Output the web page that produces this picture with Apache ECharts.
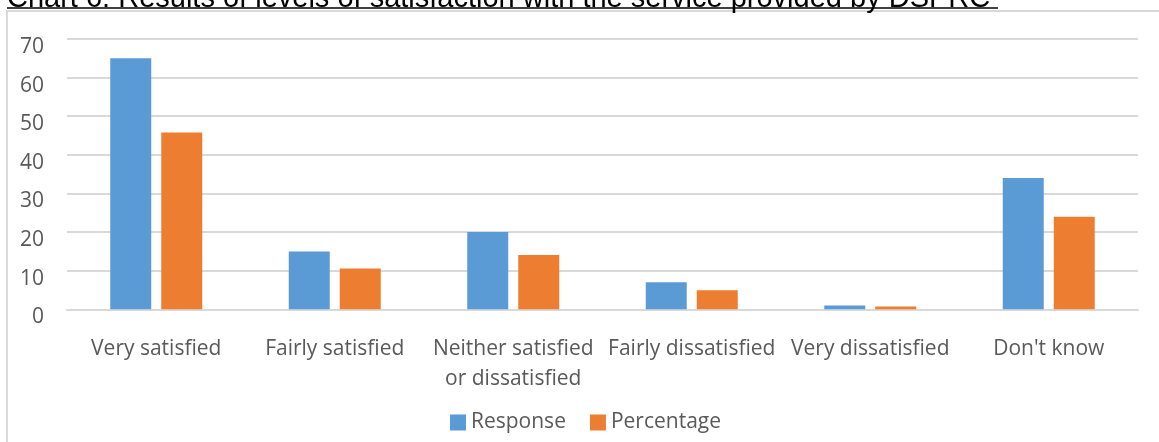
<!DOCTYPE html>
<html>
<head>
<meta charset="utf-8">
<script src="https://cdn.jsdelivr.net/npm/echarts@6/dist/echarts.min.js"></script>
<style>
html,body{margin:0;padding:0;background:#fff;}
#c{width:1159px;height:442px;}
</style>
</head>
<body>
<div id="c"></div>
<script>
const titleText = "Chart 6: Results of levels of satisfaction with the service provided by DSPRC";
const categories = ["Very satisfied", "Fairly satisfied", "Neither satisfied\nor dissatisfied", "Fairly dissatisfied", "Very dissatisfied", "Don't know"];
const responseValues = [65, 15, 20, 7, 1, 34];
const percentageValues = [45.77, 10.56, 14.08, 4.93, 0.70, 23.94];
const yTicks = { min: 0, max: 70, interval: 10 };

const labelFont = { fontFamily: "Open Sans", fontSize: 21, color: "#595959" };

const chart = echarts.init(document.getElementById('c'));
chart.setOption({
  animation: false,
  backgroundColor: '#fff',
  grid: { left: 67, right: 21, top: 39, bottom: 132.7, containLabel: false },
  legend: {
    data: ['Response', 'Percentage'],
    left: 445, top: 407,
    itemWidth: 16, itemHeight: 16, itemGap: 24,
    icon: 'rect',
    textStyle: Object.assign({}, labelFont, { lineHeight: 21, padding: [0, 0, 0, 0] })
  },
  xAxis: {
    type: 'category',
    data: categories,
    axisLine: { show: true, lineStyle: { color: '#d9d9d9', width: 2 } },
    axisTick: { show: false },
    axisLabel: Object.assign({}, labelFont, { margin: 25, lineHeight: 30, interval: 0 })
  },
  yAxis: {
    type: 'value',
    min: yTicks.min, max: yTicks.max, interval: yTicks.interval,
    axisLine: { show: false },
    axisTick: { show: false },
    splitLine: { lineStyle: { color: '#d9d9d9', width: 2 } },
    axisLabel: Object.assign({}, labelFont, { margin: 23, verticalAlign: 'top', lineHeight: 16 })
  },
  series: [
    { name: 'Response', type: 'bar', data: responseValues, barWidth: 41, barGap: '24.4%', itemStyle: { color: '#5b9bd5' } },
    { name: 'Percentage', type: 'bar', data: percentageValues, barWidth: 41, itemStyle: { color: '#ed7d31' } }
  ],
  graphic: [
    { type: 'line', shape: { x1: 7, y1: 11, x2: 1159, y2: 11 }, style: { stroke: '#d9d9d9', lineWidth: 2 }, silent: true },
    { type: 'line', shape: { x1: 7, y1: 10, x2: 7, y2: 442 }, style: { stroke: '#d9d9d9', lineWidth: 2 }, silent: true },
    { type: 'text', left: 7, top: -16, style: { text: titleText, font: '29px "Liberation Sans", Arial, sans-serif', fill: '#000' }, silent: true },
    { type: 'line', shape: { x1: 7, y1: 8, x2: 998, y2: 8 }, style: { stroke: '#000', lineWidth: 1.5 }, silent: true }
  ]
});
</script>
</body>
</html>
